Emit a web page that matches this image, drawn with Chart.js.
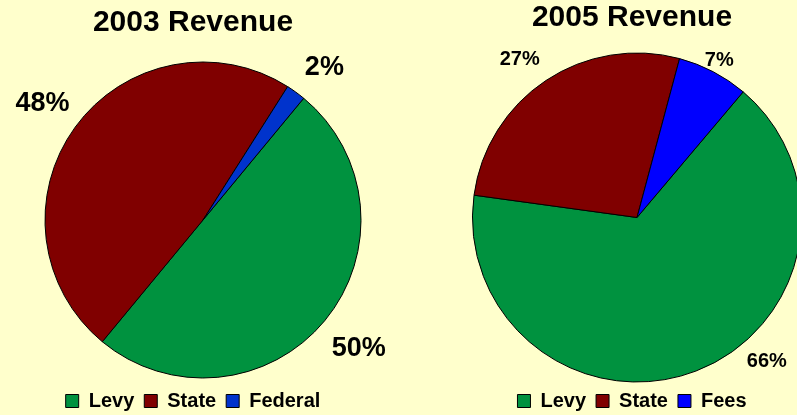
<!DOCTYPE html>
<html><head><meta charset="utf-8">
<script src="https://cdn.jsdelivr.net/npm/chart.js@4.4.0/dist/chart.umd.min.js"></script>
<style>
html,body{margin:0;padding:0;background:#FFFFCC;width:797px;height:415px;overflow:hidden;position:relative;}
canvas{position:absolute;top:0;}
#c1{left:0;width:400px;height:421px;}
#c2{left:400px;width:464px;height:421px;}
</style></head><body>
<canvas id="c1" width="400" height="421"></canvas>
<canvas id="c2" width="464" height="421"></canvas>
<script>
const leftTitle = '2003 Revenue';
const leftCategories = ['Levy', 'State', 'Federal'];
const leftValues = [50, 48, 2];
const leftColors = ['#00923F', '#800000', '#0033CC'];

const rightTitle = '2005 Revenue';
const rightCategories = ['Levy', 'State', 'Fees'];
const rightValues = [66, 27, 7];
const rightColors = ['#00923F', '#800000', '#0000FF'];

const FONT = "'Liberation Sans', Arial, sans-serif";
Chart.defaults.font.family = FONT;
Chart.defaults.color = '#000';

const pieShift = {
  id: 'pieShift',
  afterLayout(chart, args, opts) {
    const a = chart.chartArea;
    a.left += opts.dx || 0; a.right += opts.dx || 0;
  }
};

const pctLabels = {
  id: 'pctLabels',
  afterDatasetsDraw(chart, args, opts) {
    const ctx = chart.ctx;
    const meta = chart.getDatasetMeta(0);
    const ds = chart.data.datasets[0];
    ctx.save();
    ctx.font = 'bold ' + opts.size + 'px ' + FONT;
    ctx.fillStyle = '#000';
    ctx.textAlign = 'center';
    ctx.textBaseline = 'middle';
    meta.data.forEach((arc, i) => {
      const p = arc.getProps(['x', 'y', 'startAngle', 'endAngle', 'outerRadius'], true);
      const mid = (p.startAngle + p.endAngle) / 2 + (opts.angleShift[i] || 0) * Math.PI / 180;
      const r = p.outerRadius * opts.radius[i];
      ctx.fillText(ds.data[i] + '%', p.x + Math.cos(mid) * r, p.y + Math.sin(mid) * r);
    });
    ctx.restore();
  }
};

function makePie(id, title, cats, vals, colors, cfg) {
  return new Chart(document.getElementById(id), {
    type: 'pie',
    data: {
      labels: cats,
      datasets: [{
        data: vals,
        backgroundColor: colors,
        borderColor: '#000',
        borderWidth: 1,
        radius: cfg.radius,
        rotation: cfg.rotation
      }]
    },
    options: {
      responsive: false,
      animation: false,
      layout: { padding: cfg.padding },
      plugins: {
        tooltip: { enabled: false },
        title: {
          display: true,
          text: title,
          color: '#000',
          font: { size: 30, weight: 'bold', family: FONT },
          padding: cfg.titlePadding
        },
        legend: {
          position: 'bottom',
          labels: {
            color: '#000',
            font: { size: 20, weight: 'bold', family: FONT },
            boxWidth: 13,
            boxHeight: 13,
            padding: 10
          }
        },
        pieShift: { dx: cfg.dx },
        pctLabels: cfg.labels
      }
    },
    plugins: [pieShift, pctLabels]
  });
}

makePie('c1', leftTitle, leftCategories, leftValues, leftColors, {
  radius: 158, rotation: 39.6,
  padding: { left: 0, right: 14, top: 0, bottom: 0 },
  titlePadding: { top: 4.6, bottom: 18.4 },
  dx: 10,
  labels: { size: 27, radius: [1.28, 1.256, 1.234], angleShift: [0, 0, 2.5] }
});

makePie('c2', rightTitle, rightCategories, rightValues, rightColors, {
  radius: 164.5, rotation: 40.2,
  padding: { left: 0, right: 0, top: 0, bottom: 0 },
  titlePadding: { top: -0.4, bottom: 18.4 },
  dx: 5,
  labels: { size: 20, radius: [1.18, 1.196, 1.08], angleShift: [-21, -3, 0] }
});
</script></body></html>
